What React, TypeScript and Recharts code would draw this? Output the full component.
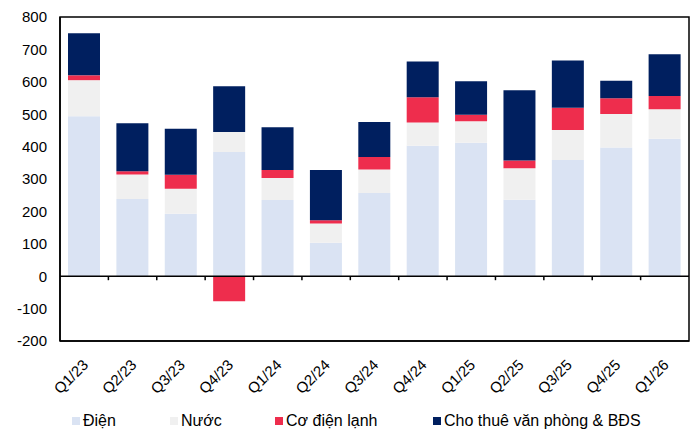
import { BarChart, Bar, XAxis, YAxis, Legend, ReferenceLine, ReferenceArea } from 'recharts';

const quarters = ['Q1/23', 'Q2/23', 'Q3/23', 'Q4/23', 'Q1/24', 'Q2/24', 'Q3/24', 'Q4/24', 'Q1/25', 'Q2/25', 'Q3/25', 'Q4/25', 'Q1/26'];
const dien = [494, 238, 193, 383, 235, 103, 257, 403, 412, 236, 359, 397, 424];
const nuoc = [111, 76, 77, 62, 68, 60, 72, 71, 66, 97, 92, 104, 91];
const coDienLanh = [15, 10, 43, -77, 25, 10, 39, 78, 20, 24, 69, 48, 41];
const choThue = [130, 148, 142, 141, 132, 155, 108, 111, 104, 217, 146, 54, 129];
const yTicks = [-200, -100, 0, 100, 200, 300, 400, 500, 600, 700, 800];

const series = [
  { key: 'dien', name: 'Điện', color: '#DAE3F3', width: 98 },
  { key: 'nuoc', name: 'Nước', color: '#F0F0F0', width: 105 },
  { key: 'cdl', name: 'Cơ điện lạnh', color: '#EE2D4D', width: 158 },
  { key: 'thue', name: 'Cho thuê văn phòng & BĐS', color: '#001F5F', width: 230 },
];

const data = quarters.map((q, i) => ({
  q,
  dien: dien[i],
  nuoc: nuoc[i],
  cdl: coDienLanh[i],
  thue: choThue[i],
}));

const font = '"Liberation Sans", Arial, sans-serif';

function QuarterTick(props: any) {
  const { x, y, payload } = props;
  const ax = x + 1;
  const ay = y + 13;
  return (
    <text
      x={ax}
      y={ay}
      textAnchor="end"
      dominantBaseline="central"
      transform={`rotate(-45 ${ax} ${ay})`}
      fontSize={15}
      fontFamily={font}
      fill="#000"
    >
      {payload.value}
    </text>
  );
}

function ZeroLine(props: any) {
  const { x1, y1, x2, y2 } = props;
  const step = (x2 - x1) / quarters.length;
  return (
    <g>
      <line x1={x1} y1={y1} x2={x2} y2={y2} stroke="#000" strokeWidth={1.5} />
      {quarters.slice(1).map((_, i) => (
        <line key={i} x1={x1 + step * (i + 1)} y1={y1} x2={x1 + step * (i + 1)} y2={y1 + 4} stroke="#000" strokeWidth={1.5} />
      ))}
    </g>
  );
}

function LegendBox() {
  return (
    <div style={{ display: 'flex', alignItems: 'center', height: 32, paddingLeft: 72, fontFamily: font, fontSize: 16, color: '#000' }}>
      {series.map((s) => (
        <div key={s.key} style={{ display: 'flex', alignItems: 'center', width: s.width, flexShrink: 0 }}>
          <span style={{ width: 8, height: 8, background: s.color, marginRight: 3, display: 'inline-block' }} />
          <span>{s.name}</span>
        </div>
      ))}
    </div>
  );
}

export default function App() {
  return (
    <div style={{ position: 'absolute', left: 0, top: 0 }}>
      <BarChart
        width={695}
        height={433}
        data={data}
        stackOffset="sign"
        margin={{ top: 17, right: 6, bottom: 0, left: 0 }}
      >
        <XAxis
          dataKey="q"
          height={60}
          axisLine={{ stroke: '#000', strokeWidth: 1.5 }}
          tickLine={false}
          tick={<QuarterTick />}
          interval={0}
        />
        <YAxis
          width={60}
          domain={[-200, 800]}
          ticks={yTicks}
          interval={0}
          axisLine={{ stroke: '#000', strokeWidth: 1.5 }}
          tickLine={false}
          tickSize={0}
          tickMargin={13}
          tick={{ fontSize: 15, fontFamily: font, fill: '#000' }}
        />
        <Legend verticalAlign="bottom" content={<LegendBox />} wrapperStyle={{ left: 0, width: 695, bottom: -4 }} />
        {series.map((s) => (
          <Bar key={s.key} dataKey={s.key} name={s.name} stackId="a" fill={s.color} barSize={32} isAnimationActive={false} />
        ))}
        <ReferenceLine y={0} shape={<ZeroLine />} />
        <ReferenceArea y1={-200} y2={800} fill="none" fillOpacity={0} stroke="#000" strokeWidth={1.5} ifOverflow="visible" />
      </BarChart>
    </div>
  );
}
